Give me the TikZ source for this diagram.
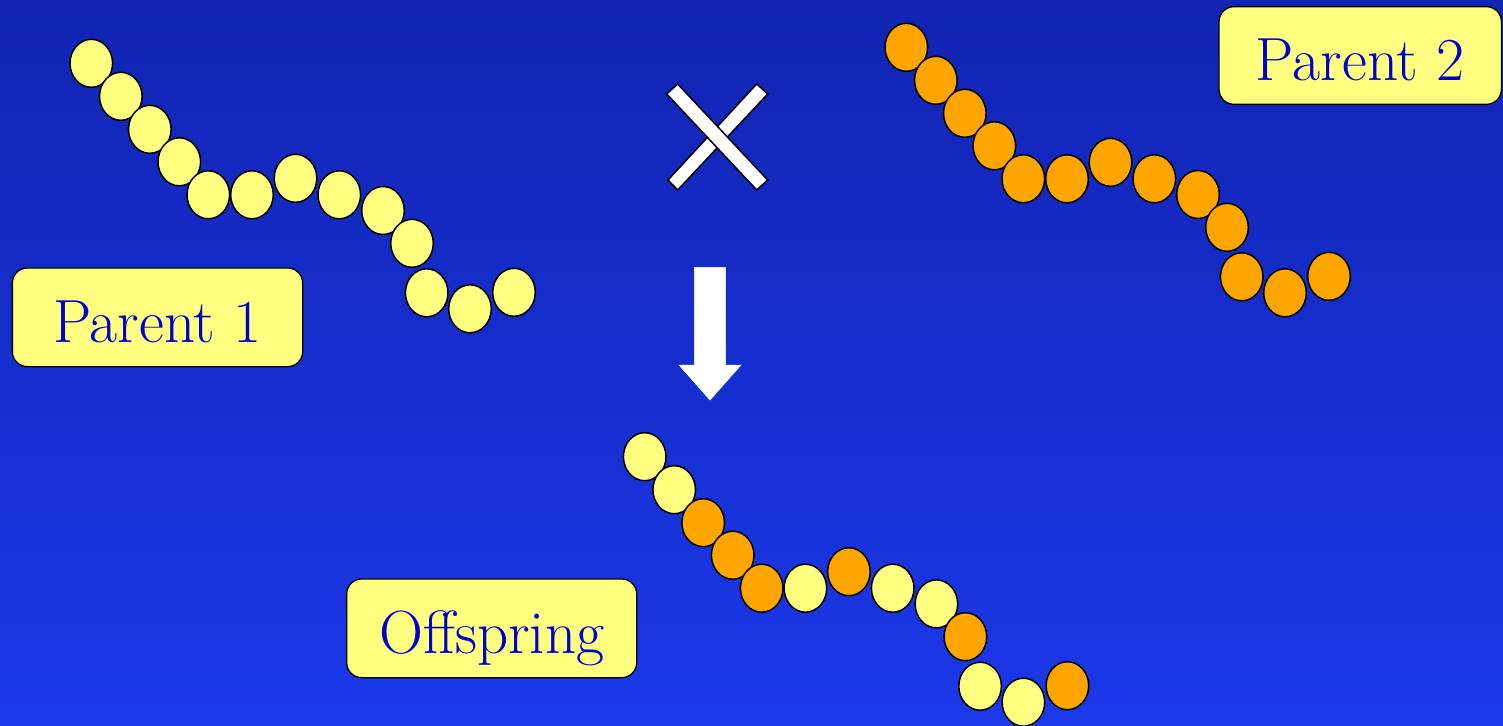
\documentclass[tikz,border=0pt]{standalone}
\usetikzlibrary{shapes.geometric}
\definecolor{bgtop}{RGB}{17,36,178}
\definecolor{bgbot}{RGB}{27,56,234}
\definecolor{beadY}{RGB}{255,255,128}
\definecolor{beadO}{RGB}{255,165,0}
\definecolor{labelblue}{RGB}{0,0,204}
\tikzset{
  bead/.style={ellipse, draw=black, line width=1.5pt, minimum width=42.6pt, minimum height=48pt, inner sep=0pt},
  labelbox/.style={draw=black, line width=1.3pt, fill=beadY, rounded corners=15pt, text=labelblue,
    font=\fontsize{61}{68}\selectfont, text height=50.8pt, text depth=0pt, inner sep=0pt},
  crossbar/.style={fill=white, draw=black, line width=1.5pt, line join=miter},
  bigarrow/.style={fill=white, draw=white, line width=0.5pt},
}
\begin{document}
\begin{tikzpicture}[x=1pt,y=-1pt]
\useasboundingbox (0,0) rectangle (1503,725);
\shade[top color=bgtop,bottom color=bgbot] (0,0) rectangle (1503,725);

% Parent 1 chain
\foreach \dx/\dy [count=\i] in {0/0, 29.5/33, 58.5/66, 88/98.5, 117/131.5, 160.7/131.5, 204.2/115, 248/131.5, 291.7/147.2, 320.7/180, 335.4/229.5, 378.7/245.5, 422.7/229}
  \node[bead, fill=beadY] (pa\i) at (91.3+\dx, 63.3+\dy) {};

% Parent 2 chain
\foreach \dx/\dy [count=\i] in {0/0, 29.5/33, 58.5/66, 88/98.5, 117/131.5, 160.7/131.5, 204.2/115, 248/131.5, 291.7/147.2, 320.7/180, 335.4/229.5, 378.7/245.5, 422.7/229}
  \node[bead, fill=beadO] (pb\i) at (906.3+\dx, 47.3+\dy) {};

% Offspring chain
\foreach \dx/\dy/\c [count=\i] in {0/0/beadY, 29.5/33/beadY, 58.5/66/beadO, 88/98.5/beadO, 117/131.5/beadO, 160.7/131.5/beadY, 204.2/115/beadO, 248/131.5/beadY, 291.7/147.2/beadY, 320.7/180/beadO, 335.4/229.5/beadY, 378.7/245.5/beadY, 422.7/229/beadO}
  \node[bead, fill=\c] (off\i) at (644.7+\dx, 456.7+\dy) {};

% Labels
\node[labelbox, minimum width=290.3pt, minimum height=98.7pt] (parent1) at (157.5,317.3) {Parent 1};
\node[labelbox, minimum width=282.4pt, minimum height=97.7pt] (parent2) at (1360.2,55.5) {Parent 2};
\node[labelbox, minimum width=290pt, minimum height=98.7pt] (offspring) at (491.7,628.3) {Of{}fspring};

% Cross
\draw[crossbar] (668,180) -- (677.7,190) -- (767.7,94) -- (756.7,84) -- cycle;
\draw[crossbar] (666.7,94) -- (677.7,84) -- (767.7,180) -- (756.7,190) -- cycle;

% Down arrow
\draw[bigarrow] (694.3,267.3) -- (725.7,267.3) -- (725.7,365) -- (741,365) -- (710,400) -- (679,365) -- (694.3,365) -- cycle;
\end{tikzpicture}
\end{document}
